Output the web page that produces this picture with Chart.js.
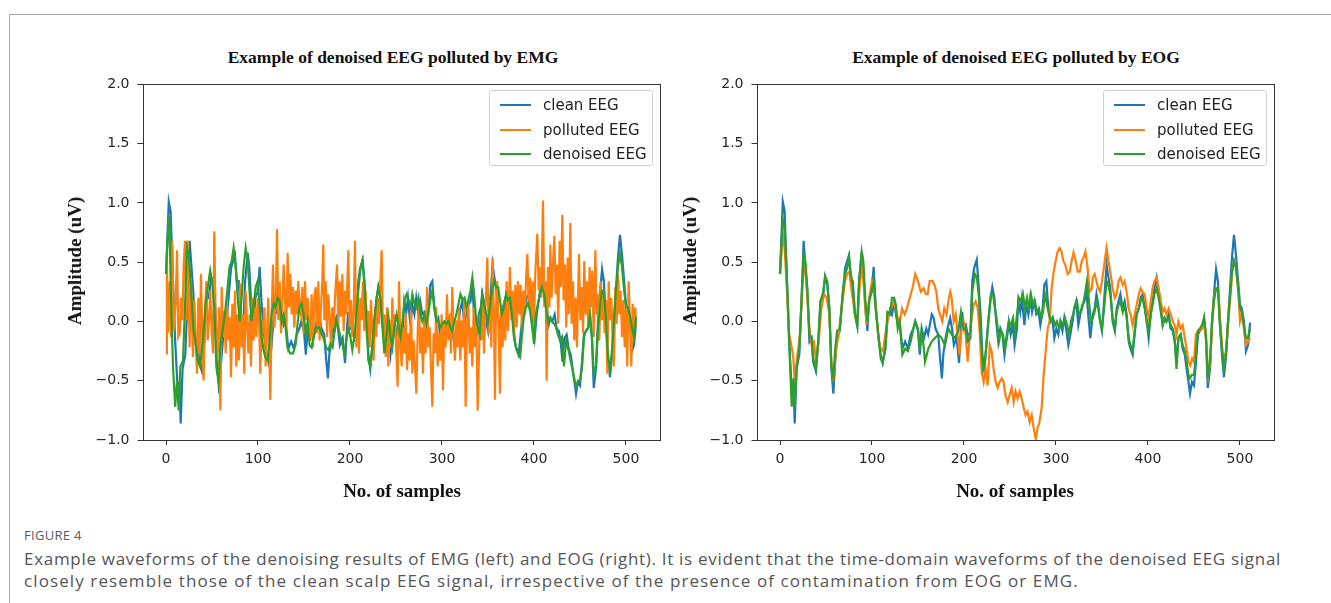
<!DOCTYPE html>
<html>
<head>
<meta charset="utf-8">
<script src="https://cdn.jsdelivr.net/npm/chart.js@4.4.1/dist/chart.umd.min.js"></script>
<style>
  html, body { margin: 0; padding: 0; background: #fff; }
  body { width: 1331px; height: 603px; position: relative; overflow: hidden; }
  .frame { position: absolute; left: 9px; top: 14px; right: -2px; bottom: -2px; border-top: 1px solid #a8a8a8; border-left: 1px solid #a8a8a8; }
  canvas { position: absolute; }
  .txt { position: absolute; white-space: nowrap; transform: translate(-50%, -50%); }
  .title { font: bold 17.5px "Liberation Serif", serif; color: #111; }
  .axlabel { font: bold 19px "Liberation Serif", serif; color: #111; }
  .ylab { transform: translate(-50%, -50%) rotate(-90deg); }
  .legend { position: absolute; width: 162px; height: 74px; border: 1px solid #d0d0d0; border-radius: 3px; background: rgba(255,255,255,0.85); font: 15px "DejaVu Sans", sans-serif; color: #222; }
  .legend .row { position: absolute; left: 0; height: 20px; line-height: 20px; }
  .legend .swatch { position: absolute; left: 10px; top: 9px; width: 31px; height: 2px; }
  .legend .lbl { position: absolute; left: 53px; top: 0; white-space: nowrap; }
  .figno { position: absolute; left: 24px; top: 526px; font: 13px "Open Sans", sans-serif; color: #5a5a5a; letter-spacing: 0.3px; }
  .caption { position: absolute; left: 24px; top: 548px; font: 17px/22px "Open Sans", sans-serif; color: #555; white-space: nowrap; }
  .caption .l1 { letter-spacing: 0.7px; }
  .caption .l2 { letter-spacing: 1.1px; }
</style>
</head>
<body>
<div class="frame"></div>

<canvas id="emgChart" width="590" height="420" style="left:80px; top:68px;"></canvas>
<canvas id="eogChart" width="590" height="420" style="left:694px; top:68px;"></canvas>

<div class="txt title" style="left:393px; top:57px;">Example of denoised EEG polluted by EMG</div>
<div class="txt title" style="left:1016px; top:57px;">Example of denoised EEG polluted by EOG</div>
<div class="txt axlabel" style="left:402px; top:491px;">No. of samples</div>
<div class="txt axlabel" style="left:1015px; top:491px;">No. of samples</div>
<div class="txt axlabel ylab" style="left:75px; top:261px;">Amplitude (uV)</div>
<div class="txt axlabel ylab" style="left:690px; top:261px;">Amplitude (uV)</div>

<div class="legend" id="legendLeft" style="left:489px; top:90px;"></div>
<div class="legend" id="legendRight" style="left:1103px; top:90px;"></div>

<div class="figno">FIGURE 4</div>
<div class="caption"><span class="l1">Example waveforms of the denoising results of EMG (left) and EOG (right). It is evident that the time-domain waveforms of the denoised EEG signal</span><br><span class="l2">closely resemble those of the clean scalp EEG signal, irrespective of the presence of contamination from EOG or EMG.</span></div>

<script>
// axis ticks and range (matplotlib default 5% margins around 0..511)
const sampleTicks = [0, 100, 200, 300, 400, 500];
const ampTicks = [-1, -0.5, 0, 0.5, 1, 1.5, 2];
const sampleMin = -25.55, sampleMax = 536.55;
const seriesNames = ['clean EEG', 'polluted EEG', 'denoised EEG'];
const seriesColors = ['#1f77b4', '#ff7f0e', '#2ca02c'];

// [sample, amplitude]; the clean signal is the same in both panels
const cleanEEG = [[0,0.40],[3,1.01],[5,0.93],[7,0.48],[10,-0.17],[13,-0.62],[14.5,-0.51],[16,-0.86],[18,-0.40],[21,-0.28],[23.5,0.20],[25.7,0.68],[27.5,0.48],[29.7,0.25],[32,-0.17],[34.4,-0.14],[36,-0.34],[39,-0.42],[41.7,-0.17],[44,0.17],[47,0.23],[49,0.38],[51.4,0.31],[53.6,0.11],[55.8,-0.40],[58,-0.61],[60,-0.34],[62,-0.14],[65,-0.08],[68,0.20],[70.7,0.45],[73,0.51],[75,0.56],[77,0.34],[79,0.34],[81.5,0.06],[84,-0.04],[86,0.34],[88.8,0.58],[90.6,0.45],[92.8,0.11],[95,-0.08],[97,0.20],[99.6,0.25],[101.8,0.46],[104,0.14],[107,-0.14],[109.4,-0.28],[111.6,-0.35],[114.5,-0.23],[116.7,0.0],[119.6,0.10],[121.7,0.06],[124,0.16],[126,0.06],[128,-0.03],[130,0.0],[133,-0.23],[136,-0.17],[139,-0.23],[142,-0.11],[145,-0.06],[147,0.0],[150,-0.08],[152,-0.28],[154,-0.06],[156.5,-0.14],[159,-0.06],[161,-0.11],[165,0.06],[167,0.03],[169,-0.06],[172,-0.11],[174,-0.31],[176,-0.48],[177.5,-0.28],[180,-0.14],[182,-0.06],[185,0.03],[187,-0.06],[189,-0.20],[192,-0.14],[194.6,-0.35],[196.7,-0.06],[198,0.08],[200,-0.06],[202,-0.03],[204.7,-0.14],[207,-0.08],[209,0.34],[211,0.45],[213.8,0.52],[215.6,0.34],[218,0.06],[220,-0.28],[222,-0.40],[224,-0.23],[226.4,0.0],[229,0.20],[230.8,0.29],[233,0.20],[235,0.0],[237.3,-0.17],[239.5,-0.06],[241.7,-0.11],[244,-0.28],[246,-0.14],[248.6,0.0],[250.7,-0.11],[253,-0.03],[255,-0.20],[257.6,-0.06],[259,0.17],[261.2,0.08],[263,0.20],[265.6,-0.03],[267.8,0.14],[270,0.06],[272,0.20],[274,0.08],[276.4,0.17],[278.6,0.06],[281,0.08],[283,-0.03],[285,0.06],[287.3,0.31],[289.5,0.34],[291.7,0.11],[294,0.0],[296,0.03],[298.2,-0.14],[300.4,-0.06],[302.5,-0.11],[304.7,0.0],[307,-0.08],[309,0.03],[311,-0.06],[313.4,-0.20],[315.6,-0.11],[318,0.0],[320,0.11],[322,0.17],[324.3,-0.03],[326.4,0.06],[328.6,0.14],[331,0.17],[333,0.28],[335,0.06],[337.3,-0.14],[340,0.06],[342,0.11],[344,0.23],[346,0.14],[348,0.0],[350,-0.08],[353,0.25],[355,0.48],[357,0.37],[359,0.28],[361.6,0.0],[364,-0.08],[366,0.11],[368,0.17],[370,0.23],[372.5,0.11],[374.6,0.17],[376.8,0.06],[379,-0.17],[381,-0.23],[383.3,-0.28],[385.5,-0.11],[387.7,0.06],[390,0.11],[392,0.20],[394,0.23],[396.4,0.14],[398.6,0.0],[400.7,-0.14],[403,0.06],[405,0.17],[407,0.28],[409.4,0.37],[411.6,0.25],[414,0.11],[416,-0.03],[418,0.03],[420,0.0],[422.5,0.06],[424.6,-0.06],[427,-0.08],[429,-0.17],[431,-0.34],[433,-0.14],[435.5,-0.11],[437.7,-0.23],[440,-0.28],[442,-0.40],[444,-0.51],[445.7,-0.61],[447.8,-0.51],[450,-0.54],[452.2,-0.34],[454.3,-0.11],[456.5,-0.08],[458.7,-0.06],[461,0.03],[463,-0.14],[465,-0.56],[467.4,-0.40],[469.6,0.0],[471.7,0.23],[474,0.44],[476,0.34],[478,0.0],[480.4,-0.28],[482.6,-0.47],[485,-0.28],[487,0.0],[489,0.25],[491.3,0.54],[493.5,0.73],[495.7,0.56],[498,0.34],[500,0.14],[502,0.11],[504.3,0.0],[506.5,-0.25],[508.7,-0.20],[511,-0.01]];

const emgPolluted = [[0,-0.27],[1,0.54],[2,-0.10],[4,0.34],[5.4,-0.13],[6.9,0.68],[8.3,-0.08],[10.5,0.15],[12,0.60],[13.4,-0.13],[14.9,-0.10],[16.3,0.20],[17.8,0.01],[19.2,0.48],[20.7,0.68],[22.1,0.01],[23.6,0.68],[25.7,-0.22],[27.2,0.34],[29.3,-0.30],[30.8,0.18],[32.2,-0.16],[33.7,-0.44],[35.1,0.20],[36.6,-0.27],[38,0.40],[39.5,-0.13],[40.9,-0.50],[42.4,0.06],[43.8,0.34],[45.3,-0.16],[46.7,0.01],[48.2,0.26],[49.6,-0.08],[51.1,-0.27],[52.5,0.76],[54,0.01],[55.4,-0.33],[57.6,0.12],[59.1,-0.75],[60.5,0.29],[62,-0.13],[63.4,0.09],[64.9,-0.27],[66.3,0.18],[67.8,-0.16],[69.2,0.04],[70.7,-0.47],[72.1,0.15],[73.6,-0.22],[75,0.26],[76.4,-0.38],[77.9,0.06],[79.3,-0.33],[80.8,0.32],[82.2,-0.22],[83.7,0.06],[85.1,-0.44],[86.6,0.26],[88,0.01],[89.5,-0.27],[90.9,0.06],[92.4,-0.38],[93.8,0.20],[95.3,-0.16],[96.7,0.12],[98.2,-0.13],[99.6,0.20],[101.1,0.06],[102.5,-0.44],[104,0.01],[105.4,-0.10],[106.9,0.12],[108.3,-0.38],[109.8,-0.08],[111.2,0.20],[113.4,-0.66],[114.9,0.06],[116.3,0.48],[117.8,-0.05],[119.2,0.12],[120.7,0.78],[122.1,0.01],[123.6,0.34],[125,-0.10],[126.4,0.12],[127.9,0.48],[129.3,0.20],[130.8,-0.08],[132.2,0.58],[133.7,0.12],[135.1,0.40],[136.6,0.06],[138,0.29],[139.5,-0.05],[140.9,0.26],[142.4,0.06],[143.8,0.34],[145.3,0.12],[146.7,0.06],[148.2,0.29],[149.6,-0.10],[151.1,0.34],[152.5,0.01],[154,0.20],[155.4,-0.02],[156.9,-0.16],[158.3,0.23],[159.8,-0.22],[161.2,0.20],[162.7,0.29],[164.1,-0.10],[165.6,0.34],[167,-0.16],[168.5,0.12],[169.9,0.34],[171,0.65],[172.1,0.01],[173.6,0.34],[175,-0.13],[176.4,0.23],[177.9,0.06],[179.3,-0.22],[180.8,0.12],[182.2,-0.05],[183.7,0.20],[185.9,0.48],[187.3,-0.05],[188.8,0.34],[190.2,0.04],[191.7,0.40],[193.1,-0.08],[194.6,0.26],[196,0.06],[198.2,0.60],[199.6,-0.05],[201.1,0.18],[202.5,-0.13],[204,0.06],[205.4,0.68],[206.9,-0.22],[208.3,0.23],[209.8,-0.27],[211.2,0.20],[212.7,0.01],[214.1,0.34],[215.6,-0.08],[217,0.26],[218.5,-0.16],[219.9,0.09],[221.4,-0.22],[222.8,0.18],[224.3,-0.08],[225.7,-0.33],[227.2,0.12],[228.6,-0.13],[230.1,0.20],[231.5,-0.02],[233,0.34],[234.4,0.60],[235.9,-0.13],[237.3,0.06],[238.8,-0.30],[240.2,0.12],[241.7,-0.38],[243.1,0.01],[244.6,-0.22],[246,0.20],[247.5,-0.13],[248.9,0.06],[250.4,-0.27],[251.8,-0.55],[253.3,0.34],[254.7,-0.16],[256.2,-0.38],[257.6,-0.05],[259.1,-0.27],[260.5,0.06],[262,-0.41],[263.4,-0.10],[264.9,-0.33],[266.3,0.12],[267.8,-0.44],[269.2,-0.16],[270.7,-0.38],[272.1,-0.61],[273.6,-0.10],[275,0.18],[276.4,-0.27],[277.9,-0.05],[279.3,-0.44],[280.8,0.06],[282.2,-0.27],[283.7,0.29],[285.1,-0.22],[286.6,-0.05],[288,-0.38],[289.5,-0.72],[290.9,-0.10],[292.4,-0.27],[293.8,0.12],[295.3,-0.38],[296.7,-0.10],[298.2,-0.33],[299.6,0.06],[301.1,-0.58],[302.5,0.01],[304,-0.22],[305.4,0.23],[306.9,-0.16],[308.3,0.06],[309.8,-0.27],[311.2,0.29],[312.7,-0.10],[314.1,-0.33],[315.6,0.01],[317,-0.22],[318.5,0.12],[319.9,-0.33],[321.4,0.01],[322.8,-0.22],[324.3,0.20],[325.7,-0.72],[327.2,-0.05],[328.6,0.18],[330.1,-0.27],[331.5,-0.05],[333,-0.38],[334.4,0.12],[335.9,-0.22],[337.3,0.01],[338.8,-0.75],[341.3,0.06],[342.8,-0.16],[344.2,0.20],[345.7,-0.27],[347.1,0.06],[349.3,0.54],[350.7,-0.10],[352.2,0.18],[353.6,-0.22],[355.1,0.54],[356.5,0.01],[357.6,-0.66],[358.7,0.12],[360.1,0.34],[361.6,-0.10],[363,-0.61],[364.5,0.12],[365.9,-0.22],[367.4,0.18],[368.8,-0.16],[370.3,0.34],[371.7,-0.08],[373.9,0.46],[375.4,0.01],[376.8,0.26],[378.3,-0.16],[379.7,0.31],[381.2,-0.05],[382.6,0.34],[384.1,0.06],[385.5,0.31],[387,-0.10],[388.4,0.26],[389.9,0.06],[391.3,0.34],[392.8,0.57],[394.2,0.12],[395.7,0.37],[397.1,0.01],[398.6,0.34],[400,-0.05],[401.4,0.40],[403.6,0.74],[405.1,0.26],[406.5,0.46],[408,0.20],[409.8,1.02],[411.2,0.12],[412.7,0.34],[413.8,-0.50],[415.2,0.46],[416.7,0.12],[417.8,0.65],[419.2,0.20],[420.7,0.48],[422.1,0.72],[423.6,0.23],[425,0.48],[426.4,-0.02],[427.9,0.68],[429.3,0.29],[430.8,0.90],[432.2,0.18],[433.7,0.48],[435.1,-0.05],[436.6,0.54],[438,0.06],[439.5,0.83],[440.9,-0.02],[442.4,0.34],[443.8,-0.16],[445.3,0.20],[446.7,-0.22],[448.9,0.57],[450.4,0.01],[451.8,0.29],[453.3,-0.10],[454.7,0.51],[456.2,0.06],[457.6,0.34],[459.1,-0.05],[460.5,0.46],[462,0.12],[463.4,0.43],[464.9,-0.13],[466.7,0.60],[468.1,0.06],[469.6,0.23],[471,-0.16],[472.5,0.34],[473.9,0.01],[475.4,0.26],[476.8,-0.10],[478.3,0.18],[479.7,-0.44],[481.2,0.34],[482.6,0.01],[484.1,0.20],[485.5,-0.16],[486.9,-0.38],[488.4,0.29],[489.9,-0.02],[491.3,0.40],[492.8,0.06],[494.2,0.26],[495.7,-0.13],[497.1,0.18],[498.6,-0.22],[500,0.12],[501.4,-0.38],[502.9,0.34],[504.3,0.01],[505.8,-0.38],[507.2,0.15],[508.7,-0.10],[510.1,0.12],[511,-0.05]];

const emgDenoised = [[0,0.40],[3,0.89],[4,0.76],[5.4,0.20],[7.6,-0.38],[10,-0.72],[12,-0.50],[13.8,-0.75],[15.6,-0.38],[18.5,-0.33],[20.6,0.12],[22.8,0.62],[25,0.54],[27,0.29],[30,-0.08],[32,-0.16],[34.4,-0.33],[37,-0.38],[40,-0.16],[43,0.15],[46,0.32],[48,0.43],[50,0.34],[52.5,0.12],[54.7,-0.38],[57,-0.50],[59,-0.22],[61,-0.10],[64,0.06],[67,0.29],[69,0.46],[71.4,0.51],[73.5,0.62],[75.7,0.46],[78,0.20],[80,0.0],[82,0.18],[84.4,0.46],[86.6,0.62],[88.8,0.51],[91,0.23],[93,0.0],[95,0.12],[97.5,0.29],[99.6,0.34],[102,0.12],[104,-0.13],[106,-0.24],[108,-0.30],[110.5,-0.33],[112.7,-0.16],[115,0.08],[117,0.15],[119,0.12],[121.4,0.20],[123.6,0.17],[125.7,0.0],[128,0.06],[130,-0.05],[132,-0.22],[135,-0.27],[138,-0.27],[141,-0.19],[143,-0.02],[145,0.12],[147.5,0.15],[149.6,0.06],[152,-0.10],[154,0.0],[156,-0.20],[158.3,-0.22],[160.5,-0.13],[163.4,-0.05],[166.3,-0.05],[169,-0.10],[172,-0.16],[174,-0.22],[176.4,-0.24],[178.6,-0.19],[181,-0.22],[183,-0.10],[185,0.0],[187.3,-0.05],[189.5,-0.13],[191.7,-0.19],[194,-0.27],[196,-0.16],[198,-0.05],[200.4,-0.13],[202.5,-0.24],[204.7,-0.13],[207,0.06],[209,0.26],[211.2,0.43],[213.4,0.51],[215.6,0.34],[217.8,0.0],[220,-0.33],[222,-0.38],[224.3,-0.22],[226.4,0.0],[228.6,0.18],[230.8,0.29],[233,0.20],[235,0.0],[237.3,-0.27],[239.5,-0.13],[241.7,0.04],[244,-0.13],[246,-0.22],[248.6,-0.02],[250.7,0.06],[253,-0.05],[255,-0.13],[257,0.0],[259.4,0.18],[261.6,0.23],[263.8,0.18],[266,0.12],[267.8,0.23],[270,0.15],[272,0.12],[274.4,0.20],[276.4,0.06],[278.6,0.0],[281,0.06],[283,-0.02],[285,0.06],[287.3,0.18],[289.5,0.26],[291.7,0.12],[294,0.0],[296,0.0],[298,-0.05],[300.4,-0.02],[302.5,0.0],[304.7,-0.02],[307,0.0],[309,-0.05],[311,-0.08],[313.4,0.0],[315.6,0.06],[318,0.15],[320,0.23],[322.5,0.18],[324.6,0.20],[326.4,0.12],[328.6,0.18],[331,0.26],[333,0.37],[335,0.23],[337.3,0.0],[341,-0.11],[343.5,0.23],[345.7,0.15],[348,0.06],[350,0.0],[352,0.12],[354.3,0.26],[356.5,0.34],[359,0.29],[361,0.29],[363,0.18],[365,0.06],[367.4,0.12],[369.6,0.23],[371.7,0.18],[374,0.20],[376,0.06],[378,-0.11],[380.4,-0.22],[382.6,-0.27],[385,-0.30],[387,-0.11],[389,0.04],[391.3,0.12],[393.5,0.15],[395.7,0.09],[398,-0.05],[400,-0.19],[402,0.06],[404.3,0.15],[406.5,0.23],[408.7,0.29],[411,0.23],[413,0.12],[415,0.0],[417.4,0.03],[419.6,0.0],[422,-0.02],[424,-0.05],[426,-0.11],[428.3,-0.16],[430.4,-0.13],[432.6,-0.38],[435,-0.16],[437,-0.22],[439,-0.30],[441.3,-0.38],[443.5,-0.47],[445.7,-0.55],[448,-0.50],[450,-0.50],[452.3,-0.38],[454.3,-0.13],[456.5,-0.08],[459,-0.05],[461,0.06],[463,-0.13],[465,-0.44],[467.4,-0.38],[469.6,-0.05],[472,0.15],[474,0.26],[476,0.26],[478.3,0.0],[480.4,-0.30],[482.6,-0.41],[485,-0.22],[487,0.0],[489,0.26],[491.3,0.46],[493.5,0.57],[495.7,0.46],[498,0.26],[500,0.12],[502,0.12],[504,0.06],[506.5,-0.05],[508.7,-0.13],[511,0.04]];

const eogPolluted = [[0,0.40],[3,0.73],[5,0.62],[7,0.34],[10,-0.11],[13,-0.23],[14.5,-0.31],[16,-0.51],[18,-0.34],[21.7,-0.11],[24,0.25],[26,0.54],[29,0.28],[32,-0.06],[34.4,-0.20],[37,-0.17],[39,-0.34],[42,-0.17],[45,0.11],[47.8,0.23],[50.7,0.20],[53.6,0.06],[55.8,-0.34],[58,-0.51],[61,-0.23],[63.8,-0.11],[67,0.11],[70.7,0.34],[73,0.40],[75.4,0.42],[78,0.25],[82,0.03],[84,0.0],[87,0.34],[89,0.45],[91.3,0.28],[94,-0.03],[97,0.20],[100,0.34],[102,0.28],[104,0.11],[107,-0.14],[109.4,-0.23],[112,-0.25],[115,-0.08],[118,0.06],[121,0.11],[124,0.17],[127,0.06],[130,-0.03],[132.6,0.11],[135.5,0.06],[138,0.11],[141,0.20],[144,0.28],[147,0.40],[150,0.34],[153,0.25],[156,0.28],[158.7,0.23],[160.5,0.23],[162.7,0.34],[165.6,0.34],[167.8,0.31],[170,0.25],[172,0.11],[174,0.06],[176.4,0.0],[178.6,0.11],[181,0.06],[183,0.17],[185,0.25],[186.6,0.20],[188.8,0.0],[191,0.06],[193,-0.11],[195,-0.28],[197.5,-0.06],[199.6,0.0],[201.8,-0.11],[204,-0.34],[206,-0.14],[208.3,0.03],[210.5,0.14],[212.7,0.17],[215,0.11],[217,-0.08],[219.2,-0.42],[221.4,-0.51],[223.6,-0.40],[225.7,-0.54],[228,-0.20],[230,-0.25],[232.2,-0.40],[234.4,-0.51],[236.6,-0.56],[238.8,-0.51],[241,-0.48],[243,-0.51],[245,-0.62],[247.5,-0.68],[249.6,-0.62],[251.8,-0.56],[254,-0.68],[256,-0.59],[258.3,-0.65],[260.5,-0.59],[262.7,-0.65],[265,-0.73],[267,-0.79],[269,-0.76],[271.4,-0.85],[273.6,-0.79],[275.7,-0.90],[278,-0.99],[280,-0.90],[282,-0.85],[284.4,-0.73],[286.6,-0.45],[289,-0.23],[291,-0.06],[293,0.0],[295.3,0.28],[297.5,0.42],[299.6,0.51],[301.8,0.59],[304,0.62],[306,0.59],[308,0.51],[310,0.48],[312.7,0.40],[315,0.42],[317,0.51],[319,0.58],[321.4,0.51],[323.6,0.42],[326,0.42],[328,0.51],[330,0.54],[332,0.59],[334.4,0.45],[336.6,0.25],[339,0.28],[340,0.37],[342,0.40],[344,0.34],[346,0.28],[348,0.25],[350,0.34],[353,0.51],[355,0.62],[357,0.51],[359,0.42],[361.6,0.28],[364,0.20],[366,0.23],[368,0.34],[370,0.37],[372.5,0.31],[374.6,0.34],[376.8,0.25],[379,0.11],[381,0.06],[383.3,-0.03],[385.5,0.06],[387.7,0.14],[390,0.23],[392,0.28],[394,0.25],[396.4,0.23],[398.6,0.11],[400.7,0.03],[403,0.17],[405,0.28],[407,0.34],[409.4,0.37],[411.6,0.28],[414,0.17],[416,0.08],[418,0.11],[420,0.06],[422.5,0.11],[424.6,0.06],[427,0.0],[429,-0.03],[431,-0.11],[433,0.0],[435.5,-0.06],[437.7,-0.03],[440,-0.14],[442,-0.23],[444,-0.34],[446,-0.37],[448,-0.31],[450,-0.34],[452,-0.11],[454.6,-0.08],[456.5,-0.08],[459,-0.06],[461,0.0],[463,-0.14],[465.6,-0.45],[467.8,-0.34],[470,0.0],[472,0.23],[474,0.28],[476.4,0.28],[478.6,0.0],[481,-0.25],[483,-0.34],[485,-0.23],[487.7,0.03],[490,0.25],[492,0.45],[493.5,0.51],[495.7,0.45],[498,0.28],[500,0.0],[502,0.06],[504.3,-0.06],[506.5,-0.20],[508.7,-0.17],[511,-0.14]];

const eogDenoised = [[0,0.40],[3,0.86],[5,0.79],[7,0.45],[10,-0.17],[12.7,-0.72],[14.5,-0.48],[16,-0.73],[18,-0.40],[21,-0.23],[23.5,0.20],[25.7,0.56],[27.5,0.51],[29.7,0.28],[32,-0.11],[34.4,-0.14],[36,-0.31],[39,-0.40],[41.7,-0.14],[44,0.17],[47,0.25],[49,0.38],[51.4,0.34],[53.6,0.11],[55.8,-0.37],[58,-0.48],[60,-0.23],[62,-0.08],[65,-0.06],[68,0.23],[70.7,0.40],[73,0.45],[75,0.54],[77,0.40],[79,0.31],[81.5,0.06],[84,-0.03],[86,0.34],[88.8,0.59],[90.6,0.51],[92.8,0.17],[95,0.0],[97,0.17],[99.6,0.25],[101.8,0.34],[104,0.11],[107,-0.11],[109.4,-0.31],[111.6,-0.35],[114.5,-0.23],[116.7,0.08],[119.6,0.06],[121.7,0.20],[124,0.20],[126,0.14],[128,-0.06],[130,0.0],[133,-0.28],[136,-0.23],[139,-0.25],[142,-0.17],[145,-0.06],[147,0.0],[150,-0.06],[152,-0.23],[154,-0.08],[156,-0.20],[157.6,-0.34],[161.2,-0.23],[164.9,-0.17],[168.5,-0.14],[172.1,-0.11],[175.7,-0.14],[179.3,-0.20],[183,-0.06],[186.6,-0.11],[190.2,-0.14],[193.8,-0.08],[196.7,0.08],[199.3,-0.06],[201.8,-0.06],[204,-0.17],[207,-0.14],[209,0.25],[211.9,0.40],[214,0.37],[216.3,0.20],[218.5,-0.14],[220.7,-0.40],[222.8,-0.34],[225,-0.14],[227.2,0.06],[229.3,0.23],[231.5,0.23],[233.7,0.11],[235.9,0.0],[238,-0.17],[240.2,-0.08],[242.4,-0.11],[244.6,-0.23],[246.7,-0.14],[248.9,0.0],[251,-0.03],[253.3,0.03],[255.4,-0.11],[257.6,0.06],[259.8,0.20],[262,0.17],[264.1,0.23],[266.3,0.11],[268.5,0.20],[270.7,0.11],[272.8,0.23],[275,0.14],[277.2,0.17],[279.3,0.08],[281.5,0.11],[283.7,0.03],[285.9,0.08],[288,0.23],[290.2,0.14],[292.4,0.06],[294.6,0.0],[296.7,0.03],[298.9,-0.03],[301,0.0],[303.3,-0.06],[305.4,0.0],[307.6,-0.03],[309.8,0.03],[312,-0.03],[314.1,-0.11],[316.3,0.0],[318.5,0.06],[320.7,0.14],[322.8,0.17],[325,0.06],[327.2,0.08],[329.3,0.14],[331.5,0.23],[333.7,0.34],[335.9,0.17],[338,0.0],[340,0.03],[342,0.08],[344,0.17],[346,0.11],[348,0.0],[350,-0.06],[353,0.17],[355,0.34],[357,0.31],[359,0.23],[361.6,0.03],[364,-0.06],[366,0.08],[368,0.14],[370,0.17],[372.5,0.08],[374.6,0.14],[376.8,0.03],[379,-0.14],[381,-0.20],[383.3,-0.25],[385.5,-0.08],[387.7,0.06],[390,0.11],[392,0.17],[394,0.20],[396.4,0.11],[398.6,0.0],[400.7,-0.08],[403,0.06],[405,0.14],[407,0.23],[409.4,0.28],[411.6,0.20],[414,0.08],[416,-0.03],[418,0.03],[420,0.0],[422.5,0.03],[424.6,-0.03],[427,-0.06],[429,-0.14],[431,-0.40],[433,-0.14],[435.5,-0.11],[437.7,-0.20],[440,-0.25],[442,-0.34],[444,-0.45],[445.7,-0.48],[447.8,-0.45],[450,-0.45],[452.2,-0.28],[454.3,-0.08],[456.5,-0.06],[458.7,-0.03],[461,0.03],[463,-0.11],[465,-0.48],[467.4,-0.34],[469.6,0.0],[471.7,0.17],[474,0.28],[476,0.28],[478,0.0],[480.4,-0.23],[482.6,-0.40],[485,-0.25],[487,0.0],[489,0.20],[491.3,0.42],[493.5,0.51],[495.7,0.45],[498,0.28],[500,0.11],[502,0.08],[504.3,-0.03],[506.5,-0.14],[508.7,-0.14],[511,-0.06]];

// matplotlib style box around the axes
const spines = {
  id: 'spines',
  afterDatasetsDraw(chart) {
    const a = chart.chartArea, ctx = chart.ctx;
    ctx.save();
    ctx.strokeStyle = '#333';
    ctx.lineWidth = 1;
    ctx.strokeRect(Math.round(a.left) + 0.5, Math.round(a.top) + 0.5, Math.round(a.right - a.left), Math.round(a.bottom - a.top));
    ctx.restore();
  }
};

function fmtTick(v) {
  return v.toFixed(1).replace('-', '\u2212');
}

function makeChart(id, series) {
  const datasets = series.map((pts, i) => ({
    label: seriesNames[i],
    data: pts.map(p => ({ x: p[0], y: p[1] })),
    borderColor: seriesColors[i],
    borderWidth: 2.2,
    pointRadius: 0,
    tension: 0,
    fill: false,
    order: 3 - i   // denoised drawn last, on top
  }));
  const tickFont = { family: 'DejaVu Sans', size: 14 };
  return new Chart(document.getElementById(id), {
    type: 'line',
    data: { datasets },
    options: {
      responsive: false,
      animation: false,
      events: [],
      layout: { padding: { top: 15, right: 10.4, bottom: 18, left: 0 } },
      plugins: { legend: { display: false }, tooltip: { enabled: false } },
      scales: {
        x: {
          type: 'linear', min: sampleMin, max: sampleMax,
          afterBuildTicks: ax => { ax.ticks = sampleTicks.map(v => ({ value: v })); },
          afterFit: ax => { ax.height = 30; },
          grid: { drawOnChartArea: false, tickLength: 5, tickColor: '#333' },
          border: { display: false },
          ticks: { font: tickFont, color: '#262626', padding: 6, maxRotation: 0, callback: v => String(v) }
        },
        y: {
          min: -1, max: 2,
          afterBuildTicks: ax => { ax.ticks = ampTicks.map(v => ({ value: v })); },
          afterFit: ax => { ax.width = 62.5; },
          grid: { drawOnChartArea: false, tickLength: 5, tickColor: '#333' },
          border: { display: false },
          ticks: { font: tickFont, color: '#262626', padding: 8, callback: v => fmtTick(v) }
        }
      }
    },
    plugins: [spines]
  });
}

function buildLegend(id) {
  const box = document.getElementById(id);
  seriesNames.forEach((name, i) => {
    const row = document.createElement('div');
    row.className = 'row';
    row.style.top = (4 + i * 24.5) + 'px';
    row.innerHTML = `<span class="swatch" style="background:${seriesColors[i]}"></span><span class="lbl">${name}</span>`;
    box.appendChild(row);
  });
}

makeChart('emgChart', [cleanEEG, emgPolluted, emgDenoised]);
makeChart('eogChart', [cleanEEG, eogPolluted, eogDenoised]);
buildLegend('legendLeft');
buildLegend('legendRight');
</script>
</body>
</html>
